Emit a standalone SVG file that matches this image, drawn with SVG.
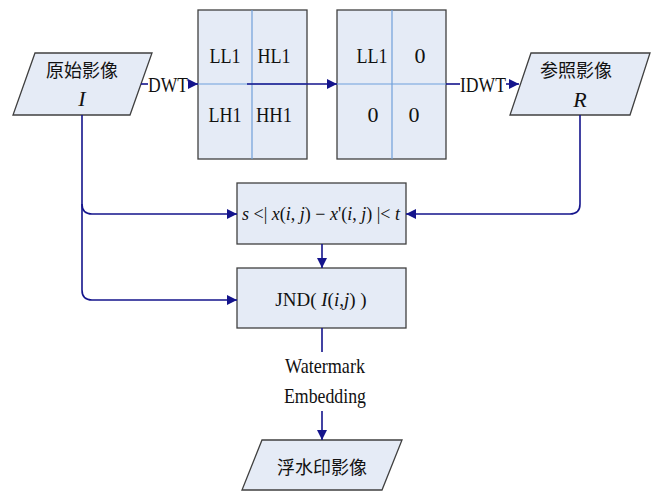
<svg xmlns="http://www.w3.org/2000/svg" width="659" height="493" viewBox="0 0 659 493">
  <defs>
    <marker id="arrow" viewBox="0 0 10 10" refX="10" refY="5" markerWidth="10" markerHeight="10" markerUnits="userSpaceOnUse" orient="auto">
      <path d="M0,0 L10,5 L0,10 z" fill="#14148c"/>
    </marker>
    <style>
      .shape { fill: #e5ebf6; stroke: #404040; stroke-width: 1.3; }
      .div { stroke: #6f9fdb; stroke-width: 1.2; fill: none; }
      .conn { stroke: #14148c; stroke-width: 1.6; fill: none; }
      .t { font-family: "Liberation Serif", "Times New Roman", serif; font-size: 22px; fill: #111; text-anchor: middle; }
      .m { font-family: "Liberation Serif", "Times New Roman", serif; font-size: 18px; fill: #111; text-anchor: middle; }
      .j { font-family: "Liberation Serif", "Times New Roman", serif; font-size: 19px; fill: #111; text-anchor: middle; }
      .cjk { font-family: "Noto Sans CJK SC", "Noto Sans CJK TC", serif; font-size: 18px; fill: #111; text-anchor: middle; }
      .it { font-style: italic; }
    </style>
  </defs>

  <rect width="659" height="493" fill="#ffffff"/>

  <!-- input image -->
  <g id="node-original">
    <polygon class="shape" points="35,53 152,53 130,115 13,115"/>
    <text class="cjk" x="82" y="77">原始影像</text>
    <text class="t it" x="82" y="106">I</text>
  </g>

  <!-- DWT sub-bands -->
  <g id="node-dwt">
    <rect class="shape" x="198" y="10" width="109" height="149"/>
    <line class="div" x1="252" y1="10" x2="252" y2="159"/>
    <line class="div" x1="198" y1="84" x2="307" y2="84"/>
    <text class="t" x="225" y="63" textLength="31" lengthAdjust="spacingAndGlyphs">LL1</text>
    <text class="t" x="274" y="63" textLength="33" lengthAdjust="spacingAndGlyphs">HL1</text>
    <text class="t" x="225" y="122" textLength="33" lengthAdjust="spacingAndGlyphs">LH1</text>
    <text class="t" x="274" y="122" textLength="36" lengthAdjust="spacingAndGlyphs">HH1</text>
  </g>

  <!-- modified sub-bands -->
  <g id="node-lowpass">
    <rect class="shape" x="337" y="10" width="109" height="149"/>
    <line class="div" x1="392" y1="10" x2="392" y2="159"/>
    <line class="div" x1="337" y1="84" x2="446" y2="84"/>
    <text class="t" x="372" y="63" textLength="31" lengthAdjust="spacingAndGlyphs">LL1</text>
    <text class="t" x="420" y="63">0</text>
    <text class="t" x="373" y="122">0</text>
    <text class="t" x="414" y="122">0</text>
  </g>

  <!-- reference image -->
  <g id="node-reference">
    <polygon class="shape" points="531,53 650,53 630,115 510,115"/>
    <text class="cjk" x="576" y="77">参照影像</text>
    <text class="t it" x="580" y="107">R</text>
  </g>

  <!-- threshold test -->
  <g id="node-threshold">
    <rect class="shape" x="237" y="183" width="169" height="61"/>
    <text class="m" x="321" y="220"><tspan class="it">s</tspan> &lt;| <tspan class="it">x</tspan>(<tspan class="it">i</tspan>, <tspan class="it">j</tspan>) − <tspan class="it">x</tspan>'(<tspan class="it">i</tspan>, <tspan class="it">j</tspan>) |&lt; <tspan class="it">t</tspan></text>
  </g>

  <!-- JND -->
  <g id="node-jnd">
    <rect class="shape" x="237" y="268" width="169" height="60"/>
    <text class="j" x="321" y="306">JND( <tspan class="it">I</tspan>(<tspan class="it">i</tspan>,<tspan class="it">j</tspan>) )</text>
  </g>

  <!-- watermarked output -->
  <g id="node-watermarked">
    <polygon class="shape" points="262,440 402,440 382,490 242,490"/>
    <text class="cjk" x="322" y="474">浮水印影像</text>
  </g>

  <!-- connectors -->
  <g id="connectors">
    <line class="conn" x1="141" y1="84" x2="148" y2="84"/>
    <text class="t" x="168" y="92" textLength="40" lengthAdjust="spacingAndGlyphs">DWT</text>
    <line class="conn" x1="188" y1="84" x2="198" y2="84" marker-end="url(#arrow)"/>

    <line class="conn" x1="247" y1="84" x2="337" y2="84" marker-end="url(#arrow)" stroke="#2f5fb0"/>

    <line class="conn" x1="446" y1="84" x2="460" y2="84"/>
    <text class="t" x="483" y="92" textLength="46" lengthAdjust="spacingAndGlyphs">IDWT</text>
    <line class="conn" x1="506" y1="84" x2="519" y2="84" marker-end="url(#arrow)"/>

    <path class="conn" d="M82,115 V204 Q82,214 92,214 H237" marker-end="url(#arrow)"/>
    <path class="conn" d="M82,204 V290 Q82,300 92,300 H237" marker-end="url(#arrow)"/>
    <path class="conn" d="M580,115 V204 Q580,214 570,214 H406" marker-end="url(#arrow)"/>

    <line class="conn" x1="322" y1="244" x2="322" y2="268" marker-end="url(#arrow)"/>

    <line class="conn" x1="322" y1="328" x2="322" y2="352"/>
    <text class="t" x="325" y="373" textLength="80" lengthAdjust="spacingAndGlyphs">Watermark</text>
    <text class="t" x="325" y="403" textLength="82" lengthAdjust="spacingAndGlyphs">Embedding</text>
    <line class="conn" x1="322" y1="411" x2="322" y2="440" marker-end="url(#arrow)"/>
  </g>
</svg>
